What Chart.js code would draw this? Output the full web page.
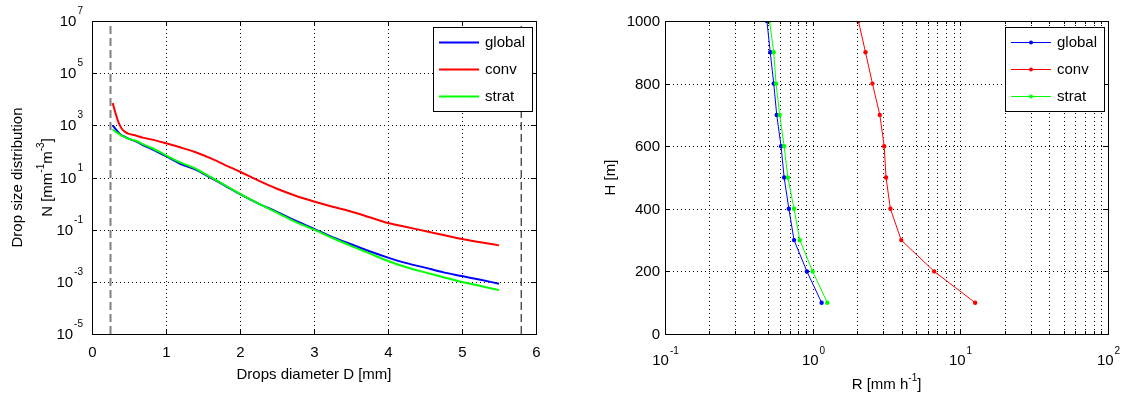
<!DOCTYPE html>
<html>
<head>
<meta charset="utf-8">
<script src="https://cdn.jsdelivr.net/npm/chart.js@4.4.0/dist/chart.umd.min.js"></script>
<style>
  body { margin: 0; background: #fff; }
  #wrap { position: relative; width: 1122px; height: 396px; }
  canvas { position: absolute; top: 0; }
</style>
</head>
<body>
<div id="wrap">
  <canvas id="dsdChart" width="561" height="396" style="left:0"></canvas>
  <canvas id="rainChart" width="561" height="396" style="left:561px"></canvas>
</div>
<script>
const FONT = '"Liberation Sans", Arial, Helvetica, sans-serif';
const seriesNames = ['global', 'conv', 'strat'];
const seriesColors = ['#0000ff', '#ff0000', '#00ff00'];

// left panel: drop size distribution N(D)
const diam = [0.28, 0.32, 0.36, 0.4, 0.45, 0.5, 0.6, 0.7, 0.8, 1.0, 1.2, 1.4, 1.6, 1.8, 2.0,
  2.25, 2.5, 2.75, 3.0, 3.25, 3.5, 3.75, 4.0, 4.25, 4.5, 4.75, 5.0, 5.25, 5.5];
const nGlobal = [1000, 710, 525, 417, 355, 302, 240, 166, 126, 66, 33, 20, 10, 4.8, 2.3,
  1.0, 0.48, 0.22, 0.107, 0.052, 0.0275, 0.0148, 0.0085, 0.0052, 0.0035, 0.0023, 0.00166, 0.0012, 0.00085];
const nConv = [7100, 2800, 1260, 760, 550, 470, 400, 330, 290, 205, 141, 93, 55, 30, 16.6,
  7.6, 3.7, 2.0, 1.2, 0.76, 0.50, 0.30, 0.18, 0.126, 0.089, 0.062, 0.044, 0.033, 0.025];
const nStrat = [710, 560, 480, 400, 347, 302, 251, 182, 138, 71, 37, 22, 10.5, 5.0, 2.35,
  1.0, 0.45, 0.20, 0.10, 0.048, 0.024, 0.0123, 0.0063, 0.0036, 0.0023, 0.0015, 0.00098, 0.00069, 0.00048];
const dsdXTicks = [0, 1, 2, 3, 4, 5, 6];
const dsdYExp = [-5, -3, -1, 1, 3, 5, 7];
const limitD = [0.25, 5.8];

// right panel: rain rate profile
const heights = [100, 200, 300, 400, 500, 600, 700, 800, 900, 1000];
const rGlobal = [1.15, 0.914, 0.748, 0.690, 0.641, 0.611, 0.571, 0.545, 0.516, 0.49];
const rConv = [12.6, 6.65, 3.98, 3.36, 3.14, 3.05, 2.85, 2.54, 2.28, 2.04];
const rStrat = [1.256, 1.0, 0.818, 0.748, 0.679, 0.641, 0.598, 0.565, 0.545, 0.51];
const rainXExp = [-1, 0, 1, 2];
const rainYTicks = [0, 200, 400, 600, 800, 1000];

function font(size) { return size + 'px ' + FONT; }

function powText(ctx, exp, x, y, align) {
  ctx.font = font(15);
  const w1 = ctx.measureText('10').width;
  ctx.font = font(10);
  const e = String(exp);
  const w2 = ctx.measureText(e).width;
  const total = w1 + 1 + w2;
  const x0 = align === 'right' ? x - total : x - total / 2;
  ctx.textAlign = 'left';
  ctx.textBaseline = 'middle';
  ctx.font = font(15);
  ctx.fillText('10', x0, y);
  ctx.font = font(10);
  ctx.fillText(e, x0 + w1 + 1, y - 10);
}

function richText(ctx, parts, cx, cy) {
  let total = 0;
  parts.forEach(p => {
    ctx.font = font(p.sup ? 10 : 15);
    p.w = ctx.measureText(p.t).width;
    total += p.w;
  });
  let x = cx - total / 2;
  ctx.textAlign = 'left';
  ctx.textBaseline = 'middle';
  parts.forEach(p => {
    ctx.font = font(p.sup ? 10 : 15);
    ctx.fillText(p.t, x, p.sup ? cy - 7 : cy);
    x += p.w;
  });
}

function line(ctx, x1, y1, x2, y2) {
  ctx.beginPath();
  ctx.moveTo(x1, y1);
  ctx.lineTo(x2, y2);
  ctx.stroke();
}

function vGrid(ctx, area, x) {
  const px = Math.round(x) + 0.5;
  line(ctx, px, area.top, px, area.bottom);
}
function hGrid(ctx, area, y) {
  const py = Math.round(y) + 0.5;
  line(ctx, area.left, py, area.right, py);
}

function drawBox(ctx, area) {
  ctx.save();
  ctx.setLineDash([]);
  ctx.strokeStyle = '#000';
  ctx.lineWidth = 1;
  ctx.strokeRect(Math.round(area.left) + 0.5, Math.round(area.top) + 0.5,
    Math.round(area.right - area.left), Math.round(area.bottom - area.top));
  ctx.restore();
}

function drawLegend(ctx, x, y, withMarkers) {
  ctx.save();
  ctx.fillStyle = '#fff';
  ctx.fillRect(x, y, 99, 84);
  ctx.strokeStyle = '#000';
  ctx.lineWidth = 1;
  ctx.strokeRect(x + 0.5, y + 0.5, 99, 84);
  const rows = [15, 42, 69];
  seriesNames.forEach((name, i) => {
    const ry = y + rows[i] + 0.5;
    ctx.strokeStyle = seriesColors[i];
    ctx.lineWidth = withMarkers ? 1 : 2;
    line(ctx, x + 6, ry, x + 46, ry);
    if (withMarkers) {
      ctx.fillStyle = seriesColors[i];
      ctx.beginPath();
      ctx.arc(x + 26, ry, 2, 0, Math.PI * 2);
      ctx.fill();
    }
    ctx.fillStyle = '#000';
    ctx.font = font(15);
    ctx.textAlign = 'left';
    ctx.textBaseline = 'middle';
    ctx.fillText(name, x + 52, ry);
  });
  ctx.restore();
}

const dsdFrame = {
  id: 'dsdFrame',
  beforeDatasetsDraw(chart) {
    const { ctx, chartArea: a, scales } = chart;
    ctx.save();
    ctx.strokeStyle = '#000';
    ctx.lineWidth = 1;
    ctx.setLineDash([1, 3]);
    dsdXTicks.slice(1, -1).forEach(v => vGrid(ctx, a, scales.x.getPixelForValue(v)));
    dsdYExp.slice(1, -1).forEach(e => hGrid(ctx, a, scales.y.getPixelForValue(Math.pow(10, e))));
    ctx.restore();
  },
  afterDraw(chart) {
    const { ctx, chartArea: a, scales } = chart;
    drawBox(ctx, a);
    ctx.save();
    ctx.strokeStyle = '#000';
    ctx.fillStyle = '#000';
    ctx.lineWidth = 1;
    dsdXTicks.forEach(v => {
      const px = Math.round(scales.x.getPixelForValue(v)) + 0.5;
      line(ctx, px, a.bottom, px, a.bottom - 5);
      line(ctx, px, a.top, px, a.top + 5);
      ctx.font = font(15);
      ctx.textAlign = 'center';
      ctx.textBaseline = 'middle';
      ctx.fillText(String(v), px, a.bottom + 19);
    });
    dsdYExp.forEach(e => {
      const py = Math.round(scales.y.getPixelForValue(Math.pow(10, e))) + 0.5;
      line(ctx, a.left, py, a.left + 5, py);
      line(ctx, a.right, py, a.right - 5, py);
      powText(ctx, e, a.left - 9, py, 'right');
    });
    const cx = (a.left + a.right) / 2;
    richText(ctx, [{ t: 'Drops diameter D [mm]' }], cx, a.bottom + 41);
    const cy = (a.top + a.bottom) / 2;
    ctx.translate(18, cy);
    ctx.rotate(-Math.PI / 2);
    richText(ctx, [{ t: 'Drop size distribution' }], 0, 0);
    ctx.setTransform(1, 0, 0, 1, 0, 0);
    ctx.translate(48, cy);
    ctx.rotate(-Math.PI / 2);
    richText(ctx, [{ t: 'N [mm' }, { t: '-1', sup: true }, { t: 'm' }, { t: '-3', sup: true }, { t: ']' }], 0, 0);
    ctx.restore();
    drawLegend(ctx, 433, 27, false);
  }
};

const rainFrame = {
  id: 'rainFrame',
  beforeDatasetsDraw(chart) {
    const { ctx, chartArea: a, scales } = chart;
    ctx.save();
    ctx.strokeStyle = '#000';
    ctx.lineWidth = 1;
    ctx.setLineDash([1, 3]);
    for (let e = -1; e < 2; e++) {
      for (let k = 1; k <= 9; k++) {
        if (e === -1 && k === 1) continue;
        vGrid(ctx, a, scales.x.getPixelForValue(k * Math.pow(10, e)));
      }
    }
    rainYTicks.slice(1, -1).forEach(v => hGrid(ctx, a, scales.y.getPixelForValue(v)));
    ctx.restore();
  },
  afterDraw(chart) {
    const { ctx, chartArea: a, scales } = chart;
    drawBox(ctx, a);
    ctx.save();
    ctx.strokeStyle = '#000';
    ctx.fillStyle = '#000';
    ctx.lineWidth = 1;
    for (let e = -1; e < 2; e++) {
      for (let k = 2; k <= 9; k++) {
        const px = Math.round(scales.x.getPixelForValue(k * Math.pow(10, e))) + 0.5;
        line(ctx, px, a.bottom, px, a.bottom - 3);
        line(ctx, px, a.top, px, a.top + 3);
      }
    }
    rainXExp.forEach(e => {
      const px = Math.round(scales.x.getPixelForValue(Math.pow(10, e))) + 0.5;
      line(ctx, px, a.bottom, px, a.bottom - 5);
      line(ctx, px, a.top, px, a.top + 5);
      powText(ctx, e, px, a.bottom + 27, 'center');
    });
    rainYTicks.forEach(v => {
      const py = Math.round(scales.y.getPixelForValue(v)) + 0.5;
      line(ctx, a.left, py, a.left + 5, py);
      line(ctx, a.right, py, a.right - 5, py);
      ctx.font = font(15);
      ctx.textAlign = 'right';
      ctx.textBaseline = 'middle';
      ctx.fillText(String(v), a.left - 5, py);
    });
    const cx = (a.left + a.right) / 2;
    richText(ctx, [{ t: 'R [mm h' }, { t: '-1', sup: true }, { t: ']' }], cx, a.bottom + 51);
    ctx.translate(50, (a.top + a.bottom) / 2);
    ctx.rotate(-Math.PI / 2);
    richText(ctx, [{ t: 'H [m]' }], 0, 0);
    ctx.restore();
    drawLegend(ctx, 444, 27, true);
  }
};

const dsdSeries = [nGlobal, nConv, nStrat];
const dsdOrder = [2, 1, 0];

new Chart(document.getElementById('dsdChart'), {
  type: 'line',
  data: {
    datasets: seriesNames.map((name, i) => ({
      label: name,
      data: diam.map((d, j) => ({ x: d, y: dsdSeries[i][j] })),
      borderColor: seriesColors[i],
      borderWidth: 2,
      pointRadius: 0,
      cubicInterpolationMode: 'monotone',
      order: dsdOrder[i]
    })).concat([
      {
        label: 'Dmin',
        data: [{ x: limitD[0], y: 1e-5 }, { x: limitD[0], y: 1e7 }],
        borderColor: '#808080',
        borderWidth: 2,
        borderDash: [8, 4],
        pointRadius: 0,
        order: 5
      },
      {
        label: 'Dmax',
        data: [{ x: limitD[1], y: 1e-5 }, { x: limitD[1], y: 1e7 }],
        borderColor: '#000',
        borderWidth: 1,
        borderDash: [8, 4],
        pointRadius: 0,
        order: 5
      }
    ])
  },
  options: {
    responsive: false,
    animation: false,
    layout: { padding: { left: 92, right: 25, top: 21, bottom: 62 } },
    plugins: { legend: { display: false }, tooltip: { enabled: false } },
    scales: {
      x: { type: 'linear', min: 0, max: 6, display: false },
      y: { type: 'logarithmic', min: 1e-5, max: 1e7, display: false }
    }
  },
  plugins: [dsdFrame]
});

const rainSeries = [rGlobal, rConv, rStrat];

new Chart(document.getElementById('rainChart'), {
  type: 'line',
  data: {
    datasets: seriesNames.map((name, i) => ({
      label: name,
      data: heights.map((h, j) => ({ x: rainSeries[i][j], y: h })),
      borderColor: seriesColors[i],
      backgroundColor: seriesColors[i],
      borderWidth: 1,
      pointRadius: 2.2,
      pointBorderWidth: 0,
      order: dsdOrder[i]
    }))
  },
  options: {
    responsive: false,
    animation: false,
    layout: { padding: { left: 104, right: 14, top: 21, bottom: 62 } },
    plugins: { legend: { display: false }, tooltip: { enabled: false } },
    scales: {
      x: { type: 'logarithmic', min: 0.1, max: 100, display: false },
      y: { type: 'linear', min: 0, max: 1000, display: false }
    }
  },
  plugins: [rainFrame]
});
</script>
</body>
</html>
